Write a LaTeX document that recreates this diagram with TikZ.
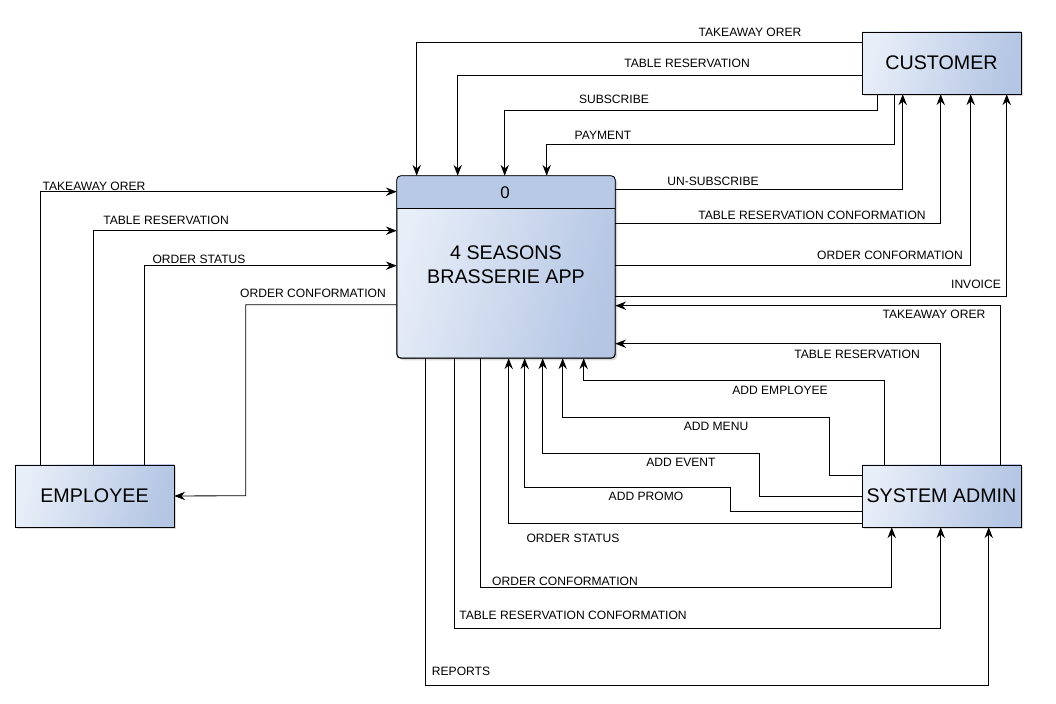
\documentclass[tikz,border=0pt]{standalone}
\usepackage{fontspec}
\setmainfont{Liberation Sans}
\usetikzlibrary{calc,positioning,shadows,arrows.meta}
\definecolor{boxlight}{HTML}{E8EEF8}
\definecolor{boxdark}{HTML}{B4C6E4}
\definecolor{headfill}{HTML}{B8C9E6}
\tikzset{
  entity/.style={draw, left color=boxlight, right color=boxdark, shading angle=75,
    minimum width=3.975cm, minimum height=1.55cm, inner sep=0pt,
    font=\fontsize{14}{16}\selectfont,
    drop shadow={shadow xshift=1.6pt, shadow yshift=-1.6pt, opacity=0.3}},
  process/.style={entity, rounded corners=3pt, minimum width=5.45cm, minimum height=4.55cm},
  flow/.style={draw, line width=0.6pt, -{Stealth[length=2.7mm,width=2.1mm,inset=0.9mm]}},
  flow label/.style={font=\fontsize{8.6}{10}\selectfont, inner sep=0pt}
}

\begin{document}
\begin{tikzpicture}[x=0.025cm,y=-0.025cm]
	\useasboundingbox (0,0) rectangle (1056,703);
	% entities and the process
	\node[process] (proc) at (506,267) {};
	\begin{scope}
		\clip[rounded corners=3pt] (proc.north west) rectangle (proc.south east);
		\fill[headfill] (proc.north west) rectangle ($(proc.north east)+(0,33)$);
	\end{scope}
	\draw[line width=0.6pt,rounded corners=3pt] (proc.north west) rectangle (proc.south east);
	\draw[line width=0.6pt] ($(proc.north west)+(0,33)$) -- ($(proc.north east)+(0,33)$);
	\node[font=\fontsize{12}{14}\selectfont] (pid) at (505,193) {0};
	\node[align=center, font=\fontsize{14}{17}\selectfont] (pname) at (506,265) {4 SEASONS\\BRASSERIE APP};
	\node[entity] (cust) at (941.5,63) {CUSTOMER};
	\node[entity] (emp) at (94.5,496) {EMPLOYEE};
	\node[entity] (sys) at (941.5,496) {SYSTEM ADMIN};
	% customer -> process
	\draw[flow] ($(cust.north west)+(0,11)$) -| ($(proc.north west)+(20,0)$);
	\draw[flow] ($(cust.north west)+(0,44)$) -| ($(proc.north west)+(61,0)$);
	\draw[flow] ($(cust.south west)+(16,0)$) -- ++(0,16) -| ($(proc.north west)+(108,0)$);
	\draw[flow] ($(cust.south west)+(33,0)$) -- ++(0,50) -| ($(proc.north west)+(150,0)$);
	\node[flow label] (c1) at (750,32) {TAKEAWAY ORER};
	\node[flow label] (c2) at (687,63) {TABLE RESERVATION};
	\node[flow label] (c3) at (614,99) {SUBSCRIBE};
	\node[flow label] (c4) at (603,135) {PAYMENT};
	% process -> customer
	\draw[flow] ($(proc.north east)+(0,14)$) -| ($(cust.south west)+(41,0)$);
	\draw[flow] ($(proc.north east)+(0,48)$) -| ($(cust.south west)+(79,0)$);
	\draw[flow] ($(proc.north east)+(0,90)$) -| ($(cust.south west)+(109,0)$);
	\draw[flow] ($(proc.north east)+(0,121)$) -| ($(cust.south west)+(145,0)$);
	\node[flow label] (c5) at (713,181) {UN-SUBSCRIBE};
	\node[flow label] (c6) at (812,215) {TABLE RESERVATION CONFORMATION};
	\node[flow label] (c7) at (890,255) {ORDER CONFORMATION};
	\node[flow label] (c8) at (976,284) {INVOICE};
	% system admin -> process
	\draw[flow] ($(sys.north west)+(139,0)$) |- ($(proc.north east)+(0,130)$);
	\draw[flow] ($(sys.north west)+(79,0)$) |- ($(proc.north east)+(0,168)$);
	\draw[flow] ($(sys.north west)+(23,0)$) -- ++(0,-84) -| ($(proc.south west)+(187,0)$);
	\draw[flow] ($(sys.north west)+(0,11)$) -| ++(-32,-58) -| ($(proc.south west)+(166,0)$);
	\draw[flow] (sys.west) -| ++(-102,-43) -| ($(proc.south west)+(146,0)$);
	\draw[flow] ($(sys.north west)+(0,47)$) -| ++(-131,-24) -| ($(proc.south west)+(128,0)$);
	\draw[flow] ($(sys.north west)+(0,59)$) -| ($(proc.south west)+(112,0)$);
	\node[flow label] (s1) at (934,314) {TAKEAWAY ORER};
	\node[flow label] (s2) at (857,354) {TABLE RESERVATION};
	\node[flow label] (s3) at (780,390) {ADD EMPLOYEE};
	\node[flow label] (s4) at (716,426) {ADD MENU};
	\node[flow label] (s5) at (681,462) {ADD EVENT};
	\node[flow label] (s6) at (646,496) {ADD PROMO};
	\node[flow label] (s7) at (573,538) {ORDER STATUS};
	% process -> system admin
	\draw[flow] ($(proc.south west)+(84,0)$) -- ++(0,229) -| ($(sys.south west)+(30,0)$);
	\draw[flow] ($(proc.south west)+(58,0)$) -- ++(0,270) -| ($(sys.south west)+(79,0)$);
	\draw[flow] ($(proc.south west)+(29,0)$) -- ++(0,327) -| ($(sys.south west)+(127,0)$);
	\node[flow label] (s8) at (565,581) {ORDER CONFORMATION};
	\node[flow label] (s9) at (573,615) {TABLE RESERVATION CONFORMATION};
	\node[flow label] (s10) at (461,671) {REPORTS};
	% employee <-> process
	\draw[flow] ($(emp.north west)+(26,0)$) |- ($(proc.north west)+(0,16)$);
	\draw[flow] ($(emp.north west)+(79,0)$) |- ($(proc.north west)+(0,55)$);
	\draw[flow] ($(emp.north west)+(130,0)$) |- ($(proc.north west)+(0,90)$);
	\draw[flow] ($(proc.north west)+(0,129)$) -| ++(-151,191) -- (emp.east);
	\node[flow label] (e1) at (94,186) {TAKEAWAY ORER};
	\node[flow label] (e2) at (166,220) {TABLE RESERVATION};
	\node[flow label] (e3) at (199,259) {ORDER STATUS};
	\node[flow label] (e4) at (313,293) {ORDER CONFORMATION};
\end{tikzpicture}
\end{document}
